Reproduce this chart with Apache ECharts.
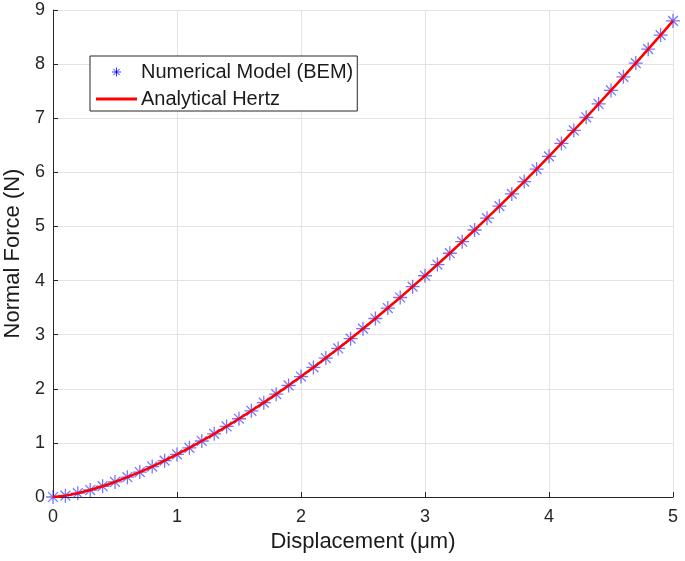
<!DOCTYPE html>
<html>
<head>
<meta charset="utf-8">
<script src="https://cdn.jsdelivr.net/npm/echarts@6/dist/echarts.min.js"></script>
<style>html,body{margin:0;padding:0;background:#fff;}#c{width:685px;height:561px;}</style>
</head>
<body>
<div id="c"></div>
<script>
var displacement = [0,0.1,0.2,0.3,0.4,0.5,0.6,0.7,0.8,0.9,1.0,1.1,1.2,1.3,1.4,1.5,1.6,1.7,1.8,1.9,2.0,2.1,2.2,2.3,2.4,2.5,2.6,2.7,2.8,2.9,3.0,3.1,3.2,3.3,3.4,3.5,3.6,3.7,3.8,3.9,4.0,4.1,4.2,4.3,4.4,4.5,4.6,4.7,4.8,4.9,5.0];
var bemForce = [0,0.025,0.070,0.129,0.199,0.278,0.366,0.461,0.563,0.672,0.787,0.908,1.035,1.167,1.304,1.446,1.593,1.744,1.901,2.061,2.226,2.395,2.568,2.745,2.926,3.111,3.299,3.492,3.687,3.887,4.089,4.296,4.505,4.718,4.934,5.153,5.376,5.601,5.830,6.061,6.296,6.534,6.774,7.017,7.264,7.513,7.765,8.019,8.276,8.536,8.799];
var hertzForce = [0,0.025,0.070,0.129,0.199,0.278,0.366,0.461,0.563,0.672,0.787,0.908,1.035,1.167,1.304,1.446,1.593,1.744,1.901,2.061,2.226,2.395,2.568,2.745,2.926,3.111,3.299,3.492,3.687,3.887,4.089,4.296,4.505,4.718,4.934,5.153,5.376,5.601,5.830,6.061,6.296,6.534,6.774,7.017,7.264,7.513,7.765,8.019,8.276,8.536,8.799];
var seriesNames = ['Numerical Model (BEM)', 'Analytical Hertz'];
var xTicks = [0,1,2,3,4,5];
var yTicks = [0,1,2,3,4,5,6,7,8,9];

var asterisk = 'path://M5,0 L5,10 M0,5 L10,5 M1.5,1.5 L8.5,8.5 M1.5,8.5 L8.5,1.5';
var lineIcon = 'path://M0,0 L42,0 L42,3 L0,3 Z';
function pairs(xs, ys){ return xs.map(function(x,i){ return [x, ys[i]]; }); }

var chart = echarts.init(document.getElementById('c'), null, {renderer:'canvas'});
var font = 'Liberation Sans, Arial, sans-serif';
chart.setOption({
  animation: false,
  backgroundColor: '#fff',
  textStyle: {fontFamily: font},
  grid: {left: 53, right: 12, top: 10, bottom: 64, containLabel: false, outerBoundsMode: 'none'},
  xAxis: {
    type: 'value', min: xTicks[0], max: xTicks[xTicks.length-1], interval: 1,
    name: 'Displacement (μm)', nameLocation: 'middle', nameGap: 30,
    nameTextStyle: {fontSize: 22, color: '#1a1a1a', fontFamily: font},
    axisLine: {show: true, onZero: false, lineStyle: {color: '#262626', width: 1}},
    axisTick: {show: true, inside: true, length: 5, lineStyle: {color: '#262626'}},
    axisLabel: {fontSize: 18, color: '#262626', margin: 11, fontFamily: font},
    splitLine: {show: true, lineStyle: {color: '#e3e3e3', width: 1}}
  },
  yAxis: {
    type: 'value', min: yTicks[0], max: yTicks[yTicks.length-1], interval: 1,
    name: 'Normal Force (N)', nameLocation: 'middle', nameGap: 28,
    nameTextStyle: {fontSize: 22, color: '#1a1a1a', fontFamily: font},
    axisLine: {show: true, onZero: false, lineStyle: {color: '#262626', width: 1}},
    axisTick: {show: true, inside: true, length: 5, lineStyle: {color: '#262626'}},
    axisLabel: {fontSize: 18, color: '#262626', margin: 8, fontFamily: font},
    splitLine: {show: true, lineStyle: {color: '#e3e3e3', width: 1}}
  },
  legend: {
    orient: 'vertical', left: 90, top: 56,
    backgroundColor: '#fff', borderColor: '#262626', borderWidth: 1,
    padding: [6, 4, 2, 6], itemGap: 7, itemWidth: 41, itemHeight: 9,
    textStyle: {fontSize: 20, lineHeight: 20, color: '#1a1a1a', fontFamily: font, padding: [0,0,0,-1]},
    data: [
      {name: seriesNames[0], icon: asterisk, itemStyle: {color: 'transparent', borderColor: '#0000ff', borderWidth: 1}},
      {name: seriesNames[1], icon: lineIcon, itemStyle: {color: '#ff0000', borderWidth: 0}}
    ]
  },
  series: [
    {
      name: seriesNames[0], type: 'scatter', symbol: asterisk, symbolSize: 14,
      itemStyle: {color: 'transparent', borderColor: 'rgba(40,40,255,0.8)', borderWidth: 1.3},
      data: pairs(displacement, bemForce), z: 2
    },
    {
      name: seriesNames[1], type: 'line', showSymbol: false, symbol: 'none',
      lineStyle: {color: '#ff0000', width: 2.5},
      itemStyle: {color: '#ff0000'},
      data: pairs(displacement, hertzForce), z: 3
    }
  ]
});
</script>
</body>
</html>
